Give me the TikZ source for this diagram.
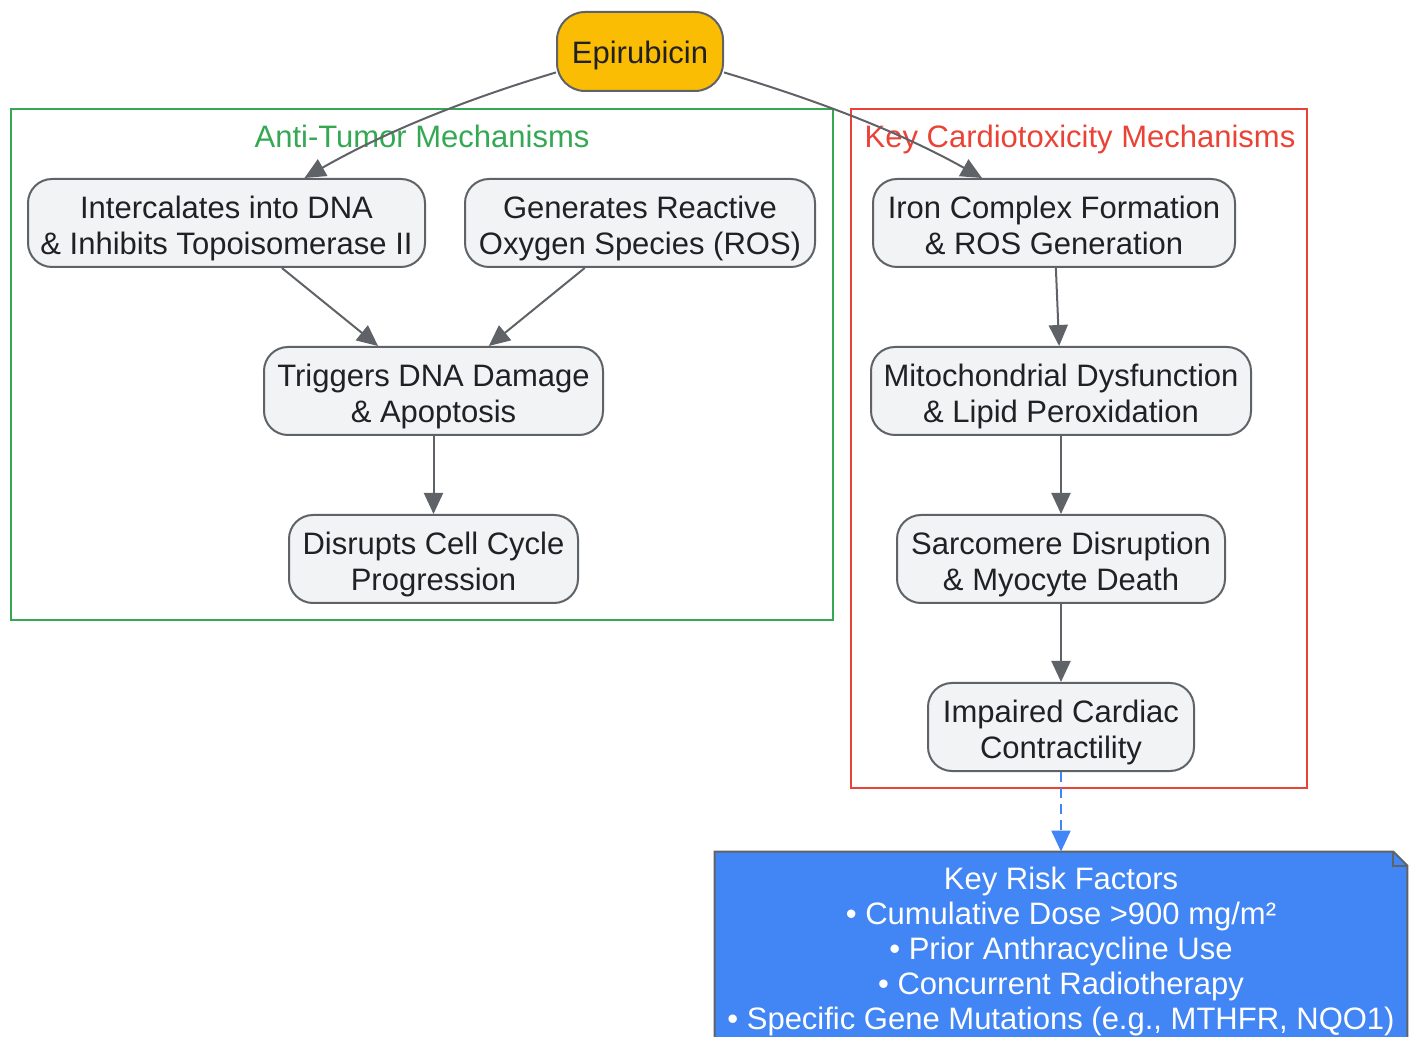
\documentclass[tikz,border=0pt]{standalone}
\usepackage{fontspec}
\setmainfont{Liberation Sans}
\usetikzlibrary{arrows.meta}
\definecolor{nodefill}{HTML}{F1F3F4}
\definecolor{edgegray}{HTML}{5F6368}
\definecolor{textdark}{HTML}{202124}
\definecolor{epifill}{HTML}{FBBC04}
\definecolor{grn}{HTML}{34A853}
\definecolor{rd}{HTML}{EA4335}
\definecolor{blu}{HTML}{4285F4}
\newcommand\lstrut{\rule[-3.2pt]{0pt}{18pt}}
\tikzset{
  basebox/.style={draw=edgegray, line width=1pt, fill=nodefill, rounded corners=12pt,
    align=center, inner sep=0pt, minimum height=44pt, text=textdark,
    font=\fontsize{15.5pt}{18pt}\selectfont},
  box/.style={basebox, text height=33.8pt, text depth=2.2pt},
  epibox/.style={basebox, fill=epifill, rounded corners=14pt, minimum height=39.5pt,
    execute at begin node=\lstrut},
  cluster/.style={line width=1pt},
  ctitle/.style={font=\fontsize{15.5pt}{18pt}\selectfont, inner sep=0pt,
    execute at begin node=\lstrut},
  arr/.style={draw=edgegray, line width=1pt, -{Triangle[length=10.5pt,width=9.5pt]}, fill=none},
  notebox/.style={fill=blu, inner sep=0pt, align=center, text=white,
    font=\fontsize{15.5pt}{17.5pt}\selectfont, text height=84pt, text depth=3.5pt},
}
\begin{document}
\begin{tikzpicture}[x=0.5pt,y=-0.5pt]
\useasboundingbox (0,0) rectangle (1415,1037);
% clusters
\draw[cluster, draw=grn] (11,109) rectangle (833,620);
\node[ctitle, text=grn] (tgrn) at (422,136) {Anti-Tumor Mechanisms};
\draw[cluster, draw=rd] (851,109) rectangle (1307,788);
\node[ctitle, text=rd] (trd) at (1080,136) {Key Cardiotoxicity Mechanisms};
% nodes
\node[epibox, minimum width=83pt] (epi) at (640,51.5) {Epirubicin};
\node[box, minimum width=198.5pt] (A) at (226.5,223) {Intercalates into DNA\\\& Inhibits Topoisomerase II};
\node[box, minimum width=175pt] (B) at (640,223) {Generates Reactive\\Oxygen Species (ROS)};
\node[box, minimum width=169.5pt] (C) at (433.5,391) {Triggers DNA Damage\\\& Apoptosis};
\node[box, minimum width=144.5pt] (D) at (433.5,559) {Disrupts Cell Cycle\\Progression};
\node[box, minimum width=181pt] (E) at (1054,223) {Iron Complex Formation\\\& ROS Generation};
\node[box, minimum width=190pt] (F) at (1061,391) {Mitochondrial Dysfunction\\\& Lipid Peroxidation};
\node[box, minimum width=164pt] (G) at (1061,559) {Sarcomere Disruption\\\& Myocyte Death};
\node[box, minimum width=133pt] (H) at (1061,727) {Impaired Cardiac\\Contractility};
% note
\node[notebox, minimum width=346pt, minimum height=97pt] (risk) at (1061,949)
  {Key Risk Factors\\• Cumulative Dose >900 mg/m²\\• Prior Anthracycline Use\\• Concurrent Radiotherapy\\• Specific Gene Mutations (e.g., MTHFR, NQO1)};
\fill[white] ([xshift=-7pt]risk.north east) -- ([xshift=1pt,yshift=1pt]risk.north east) -- ([yshift=-7pt]risk.north east) -- cycle;
\draw[draw=edgegray, line width=1pt, line join=miter]
  (risk.south west) -- (risk.north west) -- ([xshift=-7pt]risk.north east)
  -- ([yshift=-7pt]risk.north east) -- (risk.south east);
\draw[draw=edgegray, line width=1pt]
  ([xshift=-7pt]risk.north east) -- ([xshift=-7pt,yshift=-7pt]risk.north east) -- ([yshift=-7pt]risk.north east);
% edges
\draw[arr] (epi.194.5) .. controls (477,96) and (392,128) .. (A.30);
\draw[arr] (epi.-14.5) .. controls (803,96) and (893,128) .. (E.148);
\draw[arr] (A) -- (C);
\draw[arr] (B) -- (C);
\draw[arr] (C) -- (D);
\draw[arr] (E) -- (F);
\draw[arr] (F) -- (G);
\draw[arr] (G) -- (H);
\draw[draw=blu, line width=1pt, dash pattern=on 5pt off 3pt, -{Triangle[length=10.5pt,width=9.5pt]}] (H) -- (risk);
\end{tikzpicture}
\end{document}
